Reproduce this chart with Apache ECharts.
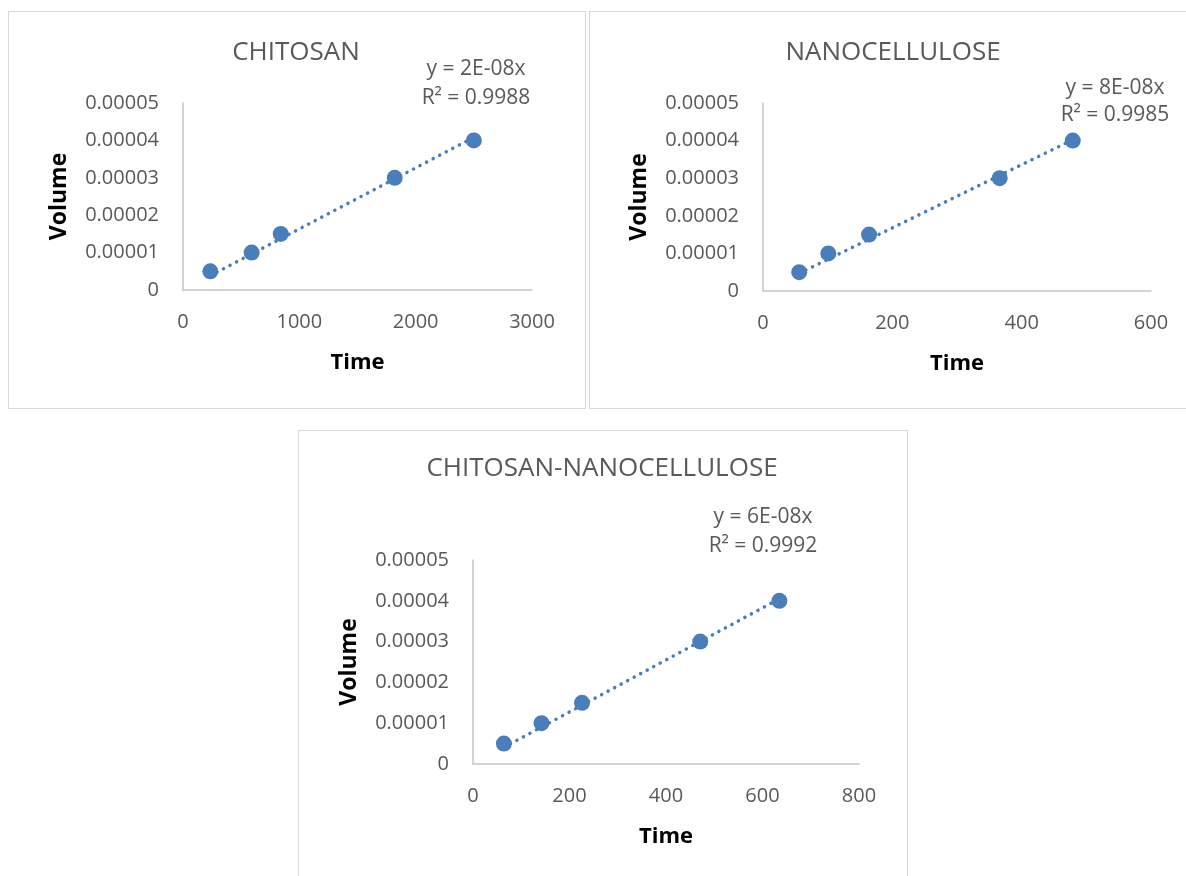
<!DOCTYPE html>
<html lang="en">
<head>
    <meta charset="UTF-8">
    <title>Volume vs Time</title>
    <script src="https://cdn.jsdelivr.net/npm/echarts@6/dist/echarts.min.js"></script>
    <style>
        body { margin: 0; background: #fff; }
        .box { position: absolute; box-sizing: border-box; border: 1px solid #d9d9d9; background: #fff; }
        #c1 { left: 8px; top: 11px; width: 578px; height: 398px; }
        #c2 { left: 589px; top: 11px; width: 598px; height: 398px; }
        #c3 { left: 298px; top: 430px; width: 610px; height: 460px; }
    </style>
</head>
<body>
<div class="box" id="c1"></div>
<div class="box" id="c2"></div>
<div class="box" id="c3"></div>

<script>
    // data
    const volume = [0.000005, 0.00001, 0.000015, 0.00003, 0.00004];
    const chitosanTime = [235, 590, 840, 1820, 2500];
    const nanoTime = [56, 101, 164, 366, 479];
    const blendTime = [64, 142, 226, 471, 635];

    const titles = ['CHITOSAN', 'NANOCELLULOSE', 'CHITOSAN-NANOCELLULOSE'];
    const equations = ['y = 2E-08x', 'y = 8E-08x', 'y = 6E-08x'];
    const rSquared = ['R² = 0.9988', 'R² = 0.9985', 'R² = 0.9992'];
    const timeMax = [3000, 600, 800];
    const timeStep = [1000, 200, 200];
    const volumeMax = 0.00005;
    const volumeStep = 0.00001;

    const blue = '#4a7ebb';
    const grey = '#595959';
    const font = '"Open Sans", "Noto Sans", sans-serif';

    // trendline through origin, like excel's "set intercept = 0"
    function fitLine(xs, ys) {
        let sxy = 0, sxx = 0;
        xs.forEach((x, i) => { sxy += x * ys[i]; sxx += x * x; });
        const k = sxy / sxx;
        const lo = Math.min(...xs), hi = Math.max(...xs);
        return [[lo, k * lo], [hi, k * hi]];
    }

    function makeChart(id, i, time, lay) {
        const chart = echarts.init(document.getElementById(id));
        chart.setOption({
            animation: false,
            graphic: [
                { type: 'text', x: lay.titleX, y: lay.titleY,
                  style: { text: titles[i], align: 'center', verticalAlign: 'middle',
                           font: '26px ' + font, fill: grey } },
                { type: 'text', x: lay.eqX, y: lay.eqY,
                  style: { text: equations[i], align: 'center', verticalAlign: 'middle',
                           font: '21px ' + font, fill: grey } },
                { type: 'text', x: lay.eqX, y: lay.eqY + lay.eqGap,
                  style: { text: rSquared[i], align: 'center', verticalAlign: 'middle',
                           font: '21px ' + font, fill: grey } }
            ],
            grid: { left: lay.left, top: lay.top, width: lay.width, height: lay.height,
                    containLabel: false, outerBoundsMode: 'none' },
            xAxis: {
                type: 'value', min: 0, max: timeMax[i], interval: timeStep[i],
                name: 'Time', nameLocation: 'middle', nameGap: 62,
                nameTextStyle: { fontFamily: font, fontSize: 22, fontWeight: 'bold', color: '#000' },
                axisLine: { show: true, lineStyle: { color: '#c6c6c6', width: 1.5 } },
                axisTick: { show: false },
                splitLine: { show: false },
                axisLabel: { fontFamily: font, fontSize: 20, color: grey, margin: 22,
                             formatter: v => String(v) }
            },
            yAxis: {
                type: 'value', min: 0, max: volumeMax, interval: volumeStep,
                name: 'Volume', nameLocation: 'middle', nameRotate: 90, nameGap: 112,
                nameTextStyle: { fontFamily: font, fontSize: 23, fontWeight: 'bold', color: '#000' },
                axisLine: { show: true, lineStyle: { color: '#c6c6c6', width: 1.5 } },
                axisTick: { show: false },
                splitLine: { show: false },
                axisLabel: { fontFamily: font, fontSize: 20, color: grey, margin: 24,
                             formatter: v => v === 0 ? '0' : v.toFixed(5) }
            },
            series: [
                {
                    type: 'line',
                    data: fitLine(time, volume),
                    showSymbol: false,
                    lineStyle: { color: blue, width: 3.5, type: [0.1, 7.3], cap: 'round' },
                    z: 1
                },
                {
                    type: 'scatter',
                    data: time.map((t, k) => [t, volume[k]]),
                    symbolSize: 16,
                    itemStyle: { color: blue, opacity: 1 },
                    z: 2
                }
            ]
        });
    }

    makeChart('c1', 0, chitosanTime,
        { left: 174, top: 91, width: 349, height: 187, titleX: 287, titleY: 41, eqX: 467, eqY: 57, eqGap: 29 });
    makeChart('c2', 1, nanoTime,
        { left: 173, top: 91, width: 388, height: 188, titleX: 303, titleY: 41, eqX: 525, eqY: 76, eqGap: 27 });
    makeChart('c3', 2, blendTime,
        { left: 174, top: 129, width: 386, height: 204, titleX: 303, titleY: 38, eqX: 464, eqY: 86, eqGap: 29 });
</script>
</body>
</html>
